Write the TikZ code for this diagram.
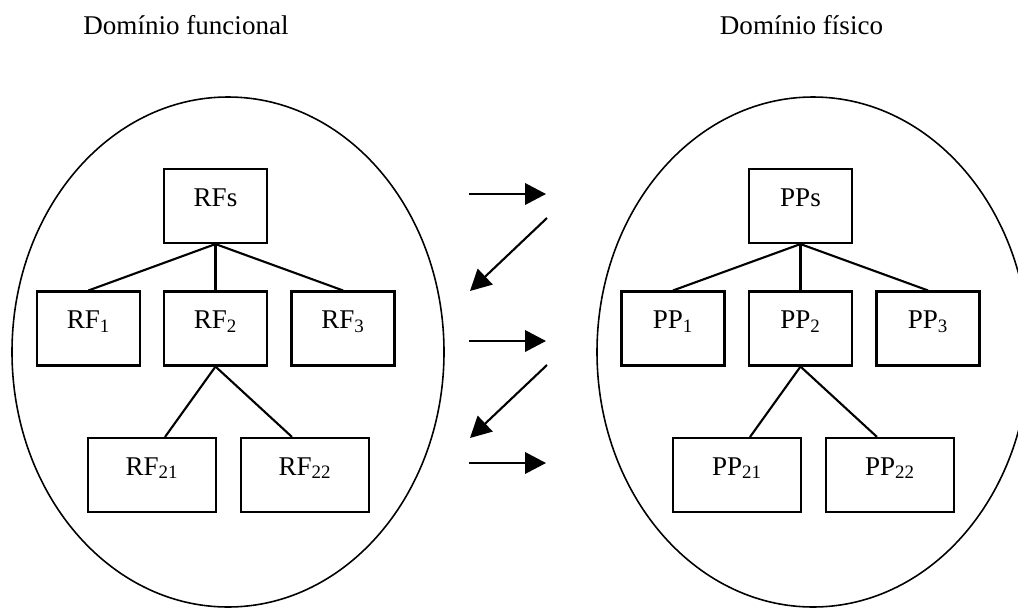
\documentclass[tikz,border=0pt]{standalone}
\usepackage{fontspec}
\setmainfont{Liberation Serif}
\usetikzlibrary{arrows.meta,calc}

\begin{document}
\begin{tikzpicture}[font=\fontsize{15.4}{18}\selectfont,
        box/.style={draw,line width=1.2pt,minimum width=2.06cm,minimum height=1.48cm,inner sep=0pt,text height=0.4cm,text depth=0.4cm},
        widebox/.style={box,minimum width=2.56cm},
        link/.style={line width=1.2pt},
        jump/.style={line width=1.2pt,-{Triangle[length=0.42cm,width=0.43cm]}}]
        \useasboundingbox (0,0) rectangle (20.36,12.14);
        \clip (0,0) rectangle (20.36,12.14);
        % the two domains
        \node [anchor=base] (tfun) at (3.72,11.44) {Domínio funcional};
        \node [anchor=base] (tfis) at (16.03,11.44) {Domínio físico};
        \draw [line width=0.9pt] (4.56,5.10) ellipse [x radius=4.32, y radius=5.10];
        \draw [line width=0.9pt] (16.26,5.10) ellipse [x radius=4.32, y radius=5.10];
        % functional requirements
        \node [box] (rfs) at (4.31,8.02) {RFs};
        \node [box] (rf1) at (1.77,5.57) {RF\textsubscript{1}};
        \node [box] (rf2) at (4.31,5.57) {RF\textsubscript{2}};
        \node [box] (rf3) at (6.86,5.57) {RF\textsubscript{3}};
        \node [widebox] (rf21) at (3.04,2.64) {RF\textsubscript{21}};
        \node [widebox] (rf22) at (6.10,2.64) {RF\textsubscript{22}};
        \draw [link] (rfs.south) -- (rf1.north);
        \draw [link] (rfs.south) -- (rf2.north);
        \draw [link] (rfs.south) -- (rf3.north);
        \draw [link] (rf2.south) -- ($(rf21.north west)!0.6!(rf21.north east)$);
        \draw [link] (rf2.south) -- ($(rf22.north west)!0.4!(rf22.north east)$);
        % design parameters
        \node [box] (pps) at (16.01,8.02) {PPs};
        \node [box] (pp1) at (13.46,5.57) {PP\textsubscript{1}};
        \node [box] (pp2) at (16.01,5.57) {PP\textsubscript{2}};
        \node [box] (pp3) at (18.56,5.57) {PP\textsubscript{3}};
        \node [widebox] (pp21) at (14.74,2.64) {PP\textsubscript{21}};
        \node [widebox] (pp22) at (17.80,2.64) {PP\textsubscript{22}};
        \draw [link] (pps.south) -- (pp1.north);
        \draw [link] (pps.south) -- (pp2.north);
        \draw [link] (pps.south) -- (pp3.north);
        \draw [link] (pp2.south) -- ($(pp21.north west)!0.6!(pp21.north east)$);
        \draw [link] (pp2.south) -- ($(pp22.north west)!0.4!(pp22.north east)$);
        % zigzag between domains
        \coordinate (z1) at (9.38,8.26);
        \coordinate (z2) at (10.92,8.26);
        \coordinate (z3) at (10.94,7.78);
        \coordinate (z4) at (9.40,6.32);
        \coordinate (z5) at (9.38,5.32);
        \coordinate (z6) at (10.92,5.32);
        \coordinate (z7) at (10.94,4.84);
        \coordinate (z8) at (9.40,3.38);
        \coordinate (z9) at (9.38,2.88);
        \coordinate (z10) at (10.92,2.88);
        \draw [jump] (z1) -- (z2);
        \draw [jump] (z3) -- (z4);
        \draw [jump] (z5) -- (z6);
        \draw [jump] (z7) -- (z8);
        \draw [jump] (z9) -- (z10);
    \end{tikzpicture}
\end{document}
